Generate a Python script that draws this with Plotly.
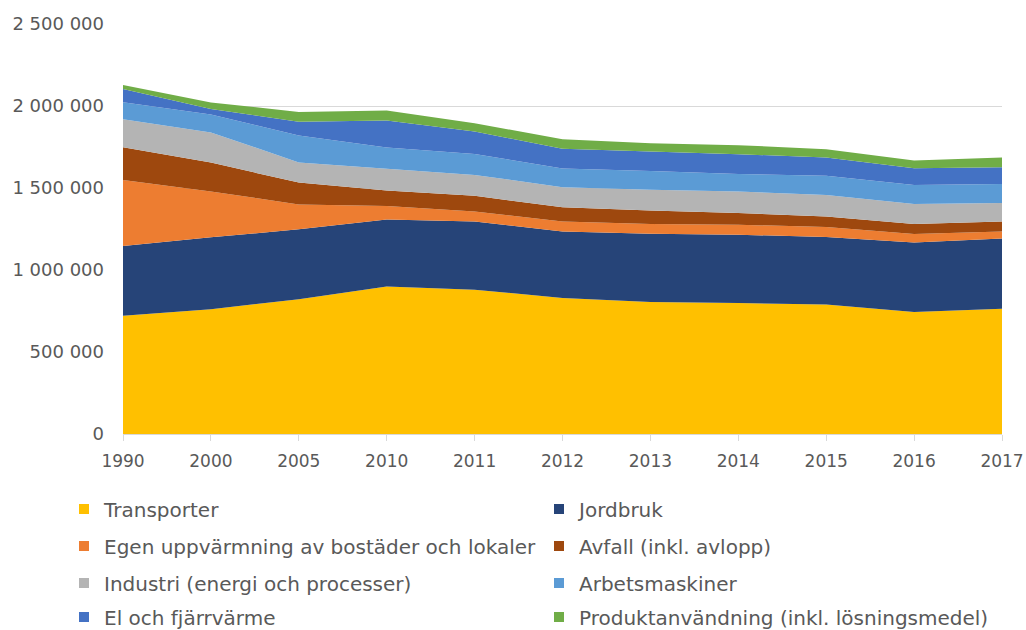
import plotly.graph_objects as go

years = ["1990", "2000", "2005", "2010", "2011", "2012", "2013", "2014", "2015", "2016", "2017"]

transporter = [721000, 761000, 822000, 900000, 880000, 829000, 805000, 799000, 789000, 744000, 764000]
jordbruk = [425000, 438000, 426000, 408000, 416000, 406000, 416000, 416000, 412000, 424000, 428000]
egen_uppvarmning = [403000, 280000, 152000, 83000, 61000, 61000, 59000, 61000, 61000, 51000, 43000]
avfall = [199000, 176000, 133000, 94000, 95000, 87000, 83000, 71000, 64000, 61000, 61000]
industri = [171000, 184000, 123000, 132000, 128000, 122000, 126000, 132000, 131000, 122000, 112000]
arbetsmaskiner = [104000, 109000, 164000, 130000, 128000, 114000, 114000, 107000, 117000, 117000, 117000]
el_fjarrvarme = [81000, 34000, 84000, 164000, 136000, 121000, 119000, 120000, 112000, 102000, 102000]
produktanvandning = [24000, 40000, 60000, 61000, 51000, 57000, 51000, 55000, 51000, 46000, 59000]

series_names = [
    "Transporter",
    "Jordbruk",
    "Egen uppvärmning av bostäder och lokaler",
    "Avfall (inkl. avlopp)",
    "Industri (energi och processer)",
    "Arbetsmaskiner",
    "El och fjärrvärme",
    "Produktanvändning (inkl. lösningsmedel)",
]
series_values = [transporter, jordbruk, egen_uppvarmning, avfall, industri,
                 arbetsmaskiner, el_fjarrvarme, produktanvandning]
colors = ["#FFC000", "#264478", "#ED7D31", "#9E480E", "#B4B4B4", "#5B9BD5", "#4472C4", "#70AD47"]

y_tickvals = [0, 500000, 1000000, 1500000, 2000000, 2500000]
y_ticktext = ["0", "500 000", "1 000 000", "1 500 000", "2 000 000", "2 500 000"]

FONT = "DejaVu Sans"
TXT = "#595959"

FIG_W, FIG_H = 1026, 630

fig = go.Figure()
for name, vals, c in zip(series_names, series_values, colors):
    fig.add_trace(go.Scatter(
        x=years, y=vals, stackgroup="one", mode="none",
        fillcolor=c, line=dict(width=0), name=name, showlegend=False,
        hoverinfo="x+y+name",
    ))

legend_keys = ["legend", "legend2", "legend3", "legend4",
               "legend5", "legend6", "legend7", "legend8"]
for name, c, lid in zip(series_names, colors, legend_keys):
    fig.add_trace(go.Scatter(
        x=[None], y=[None], mode="markers",
        marker=dict(symbol="square", size=10, color=c),
        name=name, legend=lid, showlegend=True,
    ))

row_px = [509, 546, 583, 617]
col_px = [64, 539]
legends = {}
for i, key in enumerate(legend_keys):
    legends[key] = dict(
        orientation="h", xanchor="left", yanchor="middle",
        xref="container", yref="container",
        x=col_px[i % 2] / FIG_W, y=1 - row_px[i // 2] / FIG_H,
        font=dict(family=FONT, size=20, color=TXT),
        itemwidth=30, bgcolor="rgba(0,0,0,0)",
    )

fig.update_layout(
    width=FIG_W, height=FIG_H,
    margin=dict(l=123, r=24, t=24, b=196, pad=0, autoexpand=False),
    paper_bgcolor="white", plot_bgcolor="white",
    font=dict(family=FONT, size=18, color=TXT),
    xaxis=dict(
        type="category", range=[0, 10], showgrid=False,
        showline=True, linecolor="#D9D9D9", linewidth=1,
        ticks="outside", ticklen=6, tickcolor="#D9D9D9",
        ticklabelstandoff=6,
        tickfont=dict(family=FONT, size=17, color=TXT),
        fixedrange=True,
    ),
    yaxis=dict(
        range=[0, 2500000], tickvals=y_tickvals, ticktext=y_ticktext,
        showgrid=True, gridcolor="#D9D9D9", gridwidth=1,
        zeroline=False, showline=False, ticks="",
        ticklabelstandoff=18,
        tickfont=dict(family=FONT, size=18, color=TXT),
        fixedrange=True,
    ),
    **legends,
)

fig.write_html(
    "out.html",
    config={"displayModeBar": False},
    post_script="document.body.style.margin='0';document.body.style.overflow='hidden';",
)
